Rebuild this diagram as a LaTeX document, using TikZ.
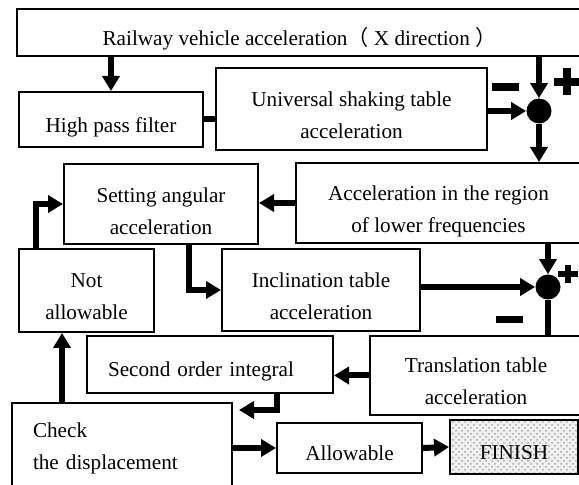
\documentclass[tikz,border=0pt]{standalone}
\usepackage{fontspec}
\setmainfont{Liberation Serif}
\newfontfamily\cjk{Noto Sans CJK SC}
\usetikzlibrary{arrows.meta,patterns}

\begin{document}
\begin{tikzpicture}[x=0.5pt, y=-0.5pt,
	font=\fontsize{10.6}{16}\selectfont,
	box/.style={draw, line width=1pt, inner sep=0pt, align=center, text depth=0pt, execute at begin node={\rule{0pt}{13pt}}},
	twoline/.style={text height=29.5pt, text depth=0pt},
	sum/.style={circle, fill=black, inner sep=0pt, minimum size=12.5pt},
	arr/.style={line width=3pt, -{Triangle[length=7.5pt, width=8.5pt]}},
	link/.style={line width=3pt},
	sign/.style={line width=4pt}]
	\useasboundingbox (0, 0) rectangle (579, 485);
	\clip (0, 0) rectangle (579, 485);
	\node[box, minimum width=282.5pt, minimum height=23.5pt] (rail) at (299.5, 32.5) {Railway vehicle acceleration{\cjk （} X direction {\cjk ）}};
	\node[box, minimum width=92pt, minimum height=27.5pt] (hpf) at (111, 119.5) {High pass filter};
	\node[box, twoline, minimum width=135.5pt, minimum height=41pt] (univ) at (351.5, 109) {Universal shaking table\\acceleration};
	\node[sum] (sumA) at (539, 111) {};
	\node[box, twoline, minimum width=142.5pt, minimum height=40pt] (lowf) at (438.5, 203) {Acceleration in the region\\of lower frequencies};
	\node[box, twoline, text height=31pt, minimum width=97pt, minimum height=40pt] (setang) at (161, 204) {Setting angular\\acceleration};
	\node[box, twoline, minimum width=67.5pt, minimum height=41.5pt] (notok) at (86.5, 290.5) {Not\\allowable};
	\node[box, twoline, minimum width=99pt, minimum height=41pt] (incl) at (321, 290) {Inclination table\\acceleration};
	\node[sum] (sumB) at (548, 287) {};
	\node[box, twoline, minimum width=106pt, minimum height=39.5pt] (trans) at (476, 375.5) {Translation table\\acceleration};
	\node[box, minimum width=123pt, minimum height=28.5pt, text width=102pt, align=left, text height=12.5pt, text depth=0pt] (second) at (210, 364.5) {Second order integral};
	\node[box, minimum width=110pt, minimum height=47pt, text width=89pt, align=left, text height=7.4pt, text depth=19.4pt] (check) at (122, 450) {Check\\the displacement};
	\node[box, minimum width=72.5pt, minimum height=25pt] (allow) at (349.5, 448) {Allowable};
	\node[box, minimum width=64pt, minimum height=27pt, preaction={fill=gray!12}, pattern=crosshatch dots, pattern color=gray!70] (finish) at (514, 447) {FINISH};

	\draw[arr] (rail.south -| hpf.north) -- (hpf.north);
	\draw[link] (hpf.east) -- (hpf.east -| univ.west);
	\draw[arr] (univ.east |- sumA) -- (sumA);
	\draw[arr] (rail.south -| sumA) -- (sumA.north);
	\draw[arr] (sumA.south) -- (sumA |- lowf.north);
	\draw[arr] (lowf.west) -- (lowf.west -| setang.east);
	\draw[arr] ([xshift=-25.25pt]notok.north) |- (setang.west);
	\draw[arr] ([xshift=14pt]setang.south) |- (incl.west);
	\draw[arr] (incl.east |- sumB) -- (sumB);
	\draw[arr] (lowf.south -| sumB) -- (sumB.north);
	\draw[link] (trans.north -| sumB) -- (sumB.south);
	\draw[arr] (trans.west) -- (trans.west -| second.east);
	\draw[arr] ([xshift=33.5pt]second.south) |- ([shift={(3pt,-4pt)}]check.north east);
	\draw[arr] ([xshift=-30pt]check.north) -- ([xshift=-30pt]check.north |- notok.south);
	\draw[arr] (check.east |- allow.west) -- (allow.west);
	\draw[arr] (allow.east) -- (finish.west);

	\draw[sign] (492, 87) -- (519, 87);
	\draw[sign] (554, 82) -- (579, 82) (566.5, 68) -- (566.5, 95);
	\draw[sign, line width=3pt] (558, 274) -- (578, 274) (568, 265) -- (568, 283);
	\draw[sign, line width=3.5pt] (496, 319.5) -- (523, 319.5);
\end{tikzpicture}
\end{document}
